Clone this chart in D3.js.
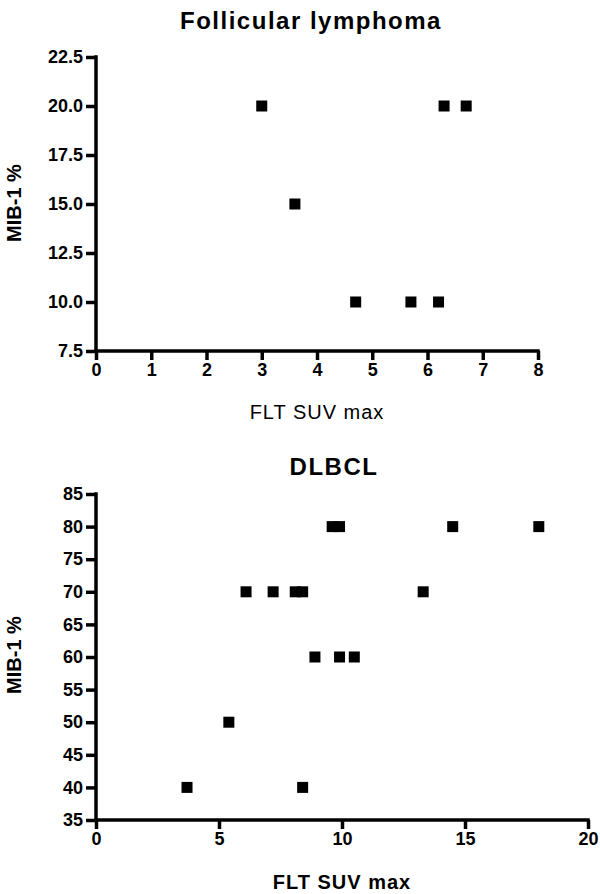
<!DOCTYPE html>
<html>
<head>
<meta charset="utf-8">
<script src="https://cdn.jsdelivr.net/npm/d3@7"></script>
<style>
  body { margin: 0; background: #fff; }
  svg text { font-family: "Liberation Sans", Arial, sans-serif; fill: #000; }
</style>
</head>
<body>
<div id="chart"></div>
<script>
const width = 600;
const height = 894;

// Follicular lymphoma: FLT SUV max vs MIB-1 %
const flSuv = [3.0, 3.6, 4.7, 5.7, 6.2, 6.3, 6.7];
const flMib = [20, 15, 10, 10, 10, 20, 20];
const flXTicks = [0, 1, 2, 3, 4, 5, 6, 7, 8];
const flYTicks = [7.5, 10, 12.5, 15, 17.5, 20, 22.5];

// DLBCL
const dlSuv = [3.7, 5.4, 6.1, 7.2, 8.1, 8.4, 8.4, 8.9, 9.6, 9.9, 9.9, 10.5, 13.3, 14.5, 18.0];
const dlMib = [40, 50, 70, 70, 70, 70, 40, 60, 80, 80, 60, 60, 70, 80, 80];
const dlXTicks = [0, 5, 10, 15, 20];
const dlYTicks = [35, 40, 45, 50, 55, 60, 65, 70, 75, 80, 85];

const panels = [
  {
    title: 'Follicular lymphoma', xs: flSuv, ys: flMib,
    xDomain: [0, 8], yDomain: [7.5, 22.5], xTicks: flXTicks, yTicks: flYTicks,
    yFormat: d3.format('.1f'),
    left: 96, right: 538, top: 57, bottom: 351,
    titleX: 311, titleY: 12, xLabelY: 412, yLabelY: 203, xLabelWeight: 'normal'
  },
  {
    title: 'DLBCL', xs: dlSuv, ys: dlMib,
    xDomain: [0, 20], yDomain: [35, 85], xTicks: dlXTicks, yTicks: dlYTicks,
    yFormat: d3.format('d'),
    left: 96, right: 588, top: 494, bottom: 820,
    titleX: 334, titleY: 458, xLabelY: 882, yLabelY: 655, xLabelWeight: 'bold'
  }
];

const svg = d3.select('#chart')
  .append('svg')
  .attr('width', width)
  .attr('height', height);

function styleAxis(g) {
  g.selectAll('.domain').attr('stroke', '#000').attr('stroke-width', 3.5);
  g.selectAll('.tick line').attr('stroke', '#000').attr('stroke-width', 3.5);
  g.selectAll('.tick text')
    .attr('font-family', '"Liberation Sans", Arial, sans-serif')
    .attr('font-size', 18)
    .attr('font-weight', 'bold');
}

panels.forEach(p => {
  const x = d3.scaleLinear().domain(p.xDomain).range([p.left, p.right]);
  const y = d3.scaleLinear().domain(p.yDomain).range([p.bottom, p.top]);

  svg.append('g')
    .attr('transform', `translate(0, ${p.bottom})`)
    .call(d3.axisBottom(x).tickValues(p.xTicks).tickFormat(d3.format('d'))
      .tickSize(9).tickSizeOuter(0).tickPadding(3))
    .call(g => g.select('.domain').attr('d', `M${p.left - 1.75},0H${p.right + 1.75}`))
    .call(styleAxis);

  svg.append('g')
    .attr('transform', `translate(${p.left}, 0)`)
    .call(d3.axisLeft(y).tickValues(p.yTicks).tickFormat(p.yFormat)
      .tickSize(10).tickSizeOuter(0).tickPadding(3))
    .call(g => g.select('.domain').attr('d', `M0,${p.top - 1.75}V${p.bottom + 1.75}`))
    .call(styleAxis);

  const m = 11;
  svg.append('g')
    .selectAll('rect')
    .data(p.xs.map((v, i) => [v, p.ys[i]]))
    .join('rect')
    .attr('x', d => x(d[0]) - m / 2)
    .attr('y', d => y(d[1]) - m / 2)
    .attr('width', m)
    .attr('height', m)
    .attr('fill', '#000');

  svg.append('text')
    .attr('x', p.titleX)
    .attr('y', p.titleY)
    .attr('dy', '0.71em')
    .attr('text-anchor', 'middle')
    .style('font-size', '24px')
    .style('font-weight', 'bold')
    .style('letter-spacing', '1.5px')
    .text(p.title);

  svg.append('text')
    .attr('x', (p.left + p.right) / 2)
    .attr('y', p.xLabelY)
    .attr('dy', '0.35em')
    .attr('text-anchor', 'middle')
    .style('font-size', '20px')
    .style('font-weight', p.xLabelWeight)
    .style('letter-spacing', '1px')
    .text('FLT SUV max');

  svg.append('text')
    .attr('transform', `translate(14, ${p.yLabelY}) rotate(-90)`)
    .attr('dy', '0.35em')
    .attr('text-anchor', 'middle')
    .style('font-size', '20px')
    .style('font-weight', 'bold')
    .text('MIB-1 %');
});
</script>
</body>
</html>
